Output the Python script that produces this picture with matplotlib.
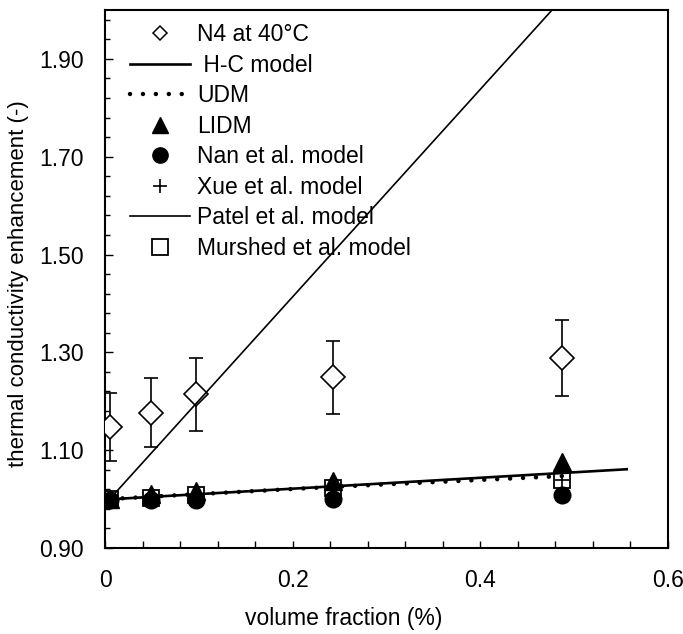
import matplotlib
matplotlib.use("Agg")
import numpy as np
import matplotlib.pyplot as plt
from matplotlib.lines import Line2D
from matplotlib.ticker import FixedLocator, MultipleLocator, FormatStrFormatter

plt.rcParams['font.family'] = ['Liberation Sans', 'DejaVu Sans']

# ---- data ----
vol_frac = [0.005, 0.049, 0.097, 0.243, 0.487]
exp_n4 = [1.147, 1.177, 1.214, 1.249, 1.289]
exp_err = [0.070, 0.070, 0.075, 0.075, 0.078]
lidm = [1.000, 1.010, 1.016, 1.037, 1.075]
nan_model = [0.998, 0.998, 0.999, 1.001, 1.009]
xue_model = [1.000, 1.003, 1.008, 1.020, 1.040]
murshed_model = [1.000, 1.003, 1.008, 1.022, 1.040]

hc_x = [0.0, 0.556]
hc_y = [0.999, 1.061]
udm_x = [0.005, 0.049, 0.097, 0.243, 0.487]
udm_y = [1.000, 1.005, 1.010, 1.025, 1.047]
patel_x = [0.005, 0.5]
patel_y = [1.000, 2.05]

y_major = [0.90, 1.10, 1.30, 1.50, 1.70, 1.90]

labels = ["N4 at 40°C", " H-C model", "UDM", "LIDM", "Nan et al. model",
          "Xue et al. model", "Patel et al. model", "Murshed et al. model"]

W, H = 683, 634
fig = plt.figure(figsize=(W / 100, H / 100), dpi=100)
ax = fig.add_axes([105 / W, 1 - 548 / H, 563 / W, 538 / H])

fs = 16.5

ax.errorbar(vol_frac, exp_n4, yerr=exp_err, fmt='D', ms=12.5, mfc='white', mec='black',
            mew=1.2, ecolor='black', elinewidth=1.2, capsize=5, capthick=1.2, zorder=3)
ax.plot(hc_x, hc_y, color='black', lw=1.9, zorder=4)
ax.plot(udm_x, udm_y, color='black', lw=3.2, linestyle=(0, (0.01, 2.9)),
        dash_capstyle='round', zorder=4)
ax.plot(vol_frac, lidm, '^', ms=12.5, color='black', zorder=5)
ax.plot(vol_frac, nan_model, 'o', ms=12, color='black', zorder=5)
ax.plot(vol_frac, xue_model, '+', ms=10, mew=1.2, color='black', zorder=5)
ax.plot(patel_x, patel_y, color='black', lw=1.2, zorder=4)
ax.plot(vol_frac, murshed_model, 's', ms=12, mfc='none', mec='black', mew=1.3, zorder=6)

ax.set_xlim(0, 0.6)
ax.set_ylim(0.9, 2.0)
ax.xaxis.set_major_locator(MultipleLocator(0.2))
ax.xaxis.set_minor_locator(MultipleLocator(0.04))
ax.yaxis.set_major_locator(FixedLocator(y_major))
ax.yaxis.set_minor_locator(FixedLocator(list(np.arange(0.90, 2.0001, 0.04))))
ax.yaxis.set_major_formatter(FormatStrFormatter('%.2f'))
ax.xaxis.set_major_formatter(FormatStrFormatter('%g'))

ax.tick_params(which='both', direction='in', top=False, right=False, labelsize=fs,
               width=1.0)
ax.tick_params(axis='y', which='major', length=6, pad=15)
ax.tick_params(axis='y', which='minor', length=3.5)
ax.tick_params(axis='x', which='major', length=5, pad=15)
ax.tick_params(axis='x', which='minor', length=5)
for s in ax.spines.values():
    s.set_linewidth(1.5)

fig.text(344 / W, 1 - 619 / H, "volume fraction (%)", ha='center', va='center', fontsize=fs)
fig.text(19 / W, 1 - 284 / H, "thermal conductivity enhancement (-)", ha='center',
         va='center', rotation=90, fontsize=fs - 0.5)

handles = [
    Line2D([], [], ls='none', marker='D', ms=7, mfc='white', mec='black', mew=1.1),
    Line2D([], [], color='black', lw=1.9),
    Line2D([], [], color='black', lw=3.2, linestyle=(0, (0.01, 2.9)), dash_capstyle='round'),
    Line2D([], [], ls='none', marker='^', ms=11, color='black'),
    Line2D([], [], ls='none', marker='o', ms=11, color='black'),
    Line2D([], [], ls='none', marker='+', ms=10, mew=1.2, color='black'),
    Line2D([], [], color='black', lw=1.2),
    Line2D([], [], ls='none', marker='s', ms=11, mfc='white', mec='black', mew=1.3),
]
leg = ax.legend(handles, labels, loc='upper left',
                bbox_to_anchor=((130 - 105) / 563, (548 - 23) / 538),
                frameon=False, fontsize=fs, handlelength=2.62, handletextpad=0.3,
                borderpad=0, borderaxespad=0, labelspacing=0.33)
leg.set_zorder(10)

fig.savefig("out.png", dpi=100)
